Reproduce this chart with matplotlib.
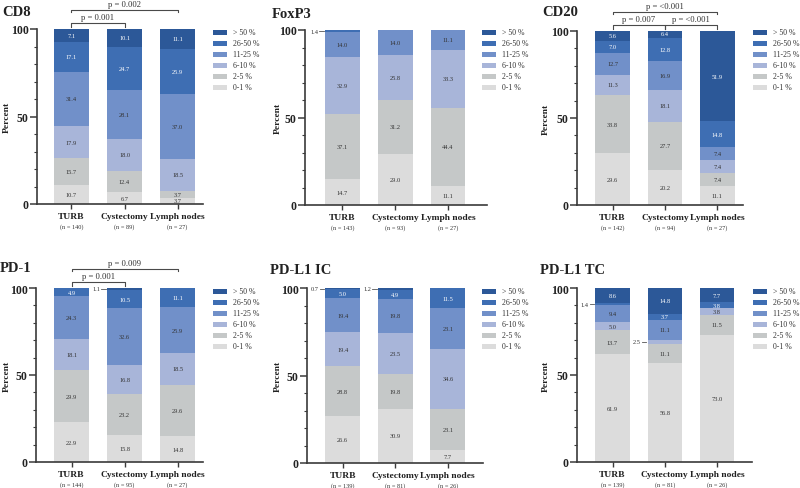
import matplotlib
matplotlib.use('Agg')
import matplotlib.pyplot as plt
from matplotlib.patches import Rectangle
import numpy as np

plt.rcParams['font.family'] = ['Liberation Serif', 'DejaVu Serif']

# ---------------- data ----------------
categories = ['0-1 %', '2-5 %', '6-10 %', '11-25 %', '26-50 %', '> 50 %']
groups = ['TURB', 'Cystectomy', 'Lymph nodes']

# each list: TURB, Cystectomy, Lymph nodes ; values per category (0-1 ... >50)
cd8_turb = [10.7, 15.7, 17.9, 31.4, 17.1, 7.1]
cd8_cyst = [6.7, 12.4, 18.0, 28.1, 24.7, 10.1]
cd8_lymph = [3.7, 3.7, 18.5, 37.0, 25.9, 11.1]
cd8_n = [140, 89, 27]

foxp3_turb = [14.7, 37.1, 32.9, 14.0, 1.4, 0.0]
foxp3_cyst = [29.0, 31.2, 25.8, 14.0, 0.0, 0.0]
foxp3_lymph = [11.1, 44.4, 33.3, 11.1, 0.0, 0.0]
foxp3_n = [143, 93, 27]

cd20_turb = [29.6, 33.8, 11.3, 12.7, 7.0, 5.6]
cd20_cyst = [20.2, 27.7, 18.1, 16.9, 12.8, 6.4]
cd20_lymph = [11.1, 7.4, 7.4, 7.4, 14.8, 51.9]
cd20_n = [142, 94, 27]

pd1_turb = [22.9, 29.9, 18.1, 24.3, 4.9, 0.0]
pd1_cyst = [15.8, 23.2, 16.8, 32.6, 10.5, 1.1]
pd1_lymph = [14.8, 29.6, 18.5, 25.9, 11.1, 0.0]
pd1_n = [144, 95, 27]

pdl1ic_turb = [26.6, 28.8, 19.4, 19.4, 5.0, 0.7]
pdl1ic_cyst = [30.9, 19.8, 23.5, 19.8, 4.9, 1.2]
pdl1ic_lymph = [7.7, 23.1, 34.6, 23.1, 11.5, 0.0]
pdl1ic_n = [139, 81, 26]

pdl1tc_turb = [61.9, 13.7, 5.0, 9.4, 1.4, 8.6]
pdl1tc_cyst = [56.8, 11.1, 2.5, 11.1, 3.7, 14.8]
pdl1tc_lymph = [73.0, 11.5, 3.8, 0.0, 3.8, 7.7]
pdl1tc_n = [139, 81, 26]

cd8_p = [(0, 1, 'low', 'p = 0.001'), (0, 2, 'high', 'p = 0.002')]
cd20_p = [(0, 1, 'low', 'p = 0.007'), (1, 2, 'low', 'p = <0.001'), (0, 2, 'high', 'p = <0.001')]
pd1_p = [(0, 1, 'low', 'p = 0.001'), (0, 2, 'high', 'p = 0.009')]

colors = ['#dcdcdc', '#c5c8c8', '#a8b5d9', '#7190c9', '#3e6eb3', '#2c5898']
text_colors = ['#333333', '#333333', '#333333', '#333333', 'white', 'white']

W, H = 800, 489
fig = plt.figure(figsize=(W / 100, H / 100), dpi=100)

# layout: (title, data, n, brackets, L, R, T, B, xlim_left, xlim_right,
#          title_x, title_y, legend_x, legend_y, ylabel_offset)
panels = [
    ('CD8', [cd8_turb, cd8_cyst, cd8_lymph], cd8_n, cd8_p,
     37, 203, 30, 205, -0.65, 2.48, 2, 13, 213, 33, 26),
    ('FoxP3', [foxp3_turb, foxp3_cyst, foxp3_lymph], foxp3_n, [],
     305, 487, 31, 206, -0.71, 2.74, 272, 14, 482, 33, 23),
    ('CD20', [cd20_turb, cd20_cyst, cd20_lymph], cd20_n, cd20_p,
     577, 743, 32, 206, -0.68, 2.49, 542, 13, 753, 33, 27),
    ('PD-1', [pd1_turb, pd1_cyst, pd1_lymph], pd1_n, pd1_p,
     36, 203, 289, 463, -0.67, 2.48, 0, 269, 213, 292, 25),
    ('PD-L1 IC', [pdl1ic_turb, pdl1ic_cyst, pdl1ic_lymph], pdl1ic_n, [],
     307, 483, 289, 464, -0.68, 2.67, 270, 270, 482, 292, 25),
    ('PD-L1 TC', [pdl1tc_turb, pdl1tc_cyst, pdl1tc_lymph], pdl1tc_n, [],
     577, 752, 289, 463, -0.68, 2.67, 540, 270, 753, 292, 27),
]

bar_w = 0.66
line_col = '#3a3a3a'

for (title, data, nvals, brackets, L, R, T, B, xl, xr, tx, ty, lx, ly, yoff) in panels:
    ax = fig.add_axes([L / W, 1 - B / H, (R - L) / W, (B - T) / H])
    ax.set_xlim(xl, xr)
    ax.set_ylim(0, 100)
    for s in ['top', 'right']:
        ax.spines[s].set_visible(False)
    for s in ['left', 'bottom']:
        ax.spines[s].set_color(line_col)
        ax.spines[s].set_linewidth(1.2)
    ax.set_yticks([0, 50, 100])
    ax.set_yticks(np.arange(0, 101, 10), minor=True)
    ax.tick_params(axis='y', which='major', length=5, width=1.1, color=line_col, pad=1,
                   labelsize=8.5)
    ax.tick_params(axis='y', which='minor', length=2.5, width=0.8, color=line_col)
    for lab in ax.get_yticklabels():
        lab.set_fontweight('bold')
        lab.set_color('#222222')
    ax.set_xticks(range(len(groups)))
    ax.set_xticklabels([])
    ax.tick_params(axis='x', length=3.5, width=1.0, color=line_col)
    ax.set_ylabel('Percent', fontsize=6.8, fontweight='bold', color='#222222')
    ax.yaxis.set_label_coords(-yoff / (R - L), 0.5)

    for gi, vals in enumerate(data):
        bottom = 0.0
        for ci, v in enumerate(vals):
            if v <= 0:
                continue
            ax.bar(gi, v, bottom=bottom, width=bar_w, color=colors[ci], linewidth=0)
            mid = bottom + v / 2
            if v >= 3:
                ax.text(gi, min(mid, 98.6), f'{v:.1f}', ha='center', va='center',
                        fontsize=4.6, color=text_colors[ci])
            else:
                xe = gi - bar_w / 2
                ymid = min(mid, 99.6)
                ax.plot([xe - 0.11, xe - 0.02], [ymid, ymid], color='#555555', lw=0.6,
                        clip_on=False)
                ax.text(xe - 0.13, ymid, f'{v:.1f}', ha='right', va='center',
                        fontsize=4.6, color='#333333')
            bottom += v
        ax.annotate(groups[gi], xy=(gi, 0), xycoords=('data', 'axes fraction'),
                    xytext=(0, -12), textcoords='offset pixels', ha='center', va='center',
                    fontsize=6.8, fontweight='bold', color='#222222', annotation_clip=False)
        ax.annotate(f'(n = {nvals[gi]})', xy=(gi, 0), xycoords=('data', 'axes fraction'),
                    xytext=(0, -22.5), textcoords='offset pixels', ha='center', va='center',
                    fontsize=4.5, color='#333333', annotation_clip=False)

    for (i, j, lvl, txt) in brackets:
        y = 103.6 if lvl == 'low' else 111.1
        d = 2.2 if lvl == 'low' else 1.6
        ax.plot([i, i, j, j], [y - d, y, y, y - d], color='#4a4a4a', lw=0.8, clip_on=False)
        ax.text((i + j) / 2, y + 0.9, txt, ha='center', va='bottom', fontsize=6.2,
                color='#333333', clip_on=False)

    fig.text(tx / W, 1 - ty / H, title, ha='left', va='center', fontsize=10.5,
             fontweight='bold', color='#222222')

    for k, ci in enumerate(reversed(range(len(categories)))):
        yc = ly + k * 11
        fig.add_artist(Rectangle((lx / W, 1 - (yc + 2.5) / H), 14 / W, 5 / H,
                                 transform=fig.transFigure, color=colors[ci], linewidth=0))
        fig.text((lx + 20) / W, 1 - yc / H, categories[ci], ha='left', va='center',
                 fontsize=5.6, color='#333333')

fig.savefig('out.png', dpi=100, facecolor='white')
